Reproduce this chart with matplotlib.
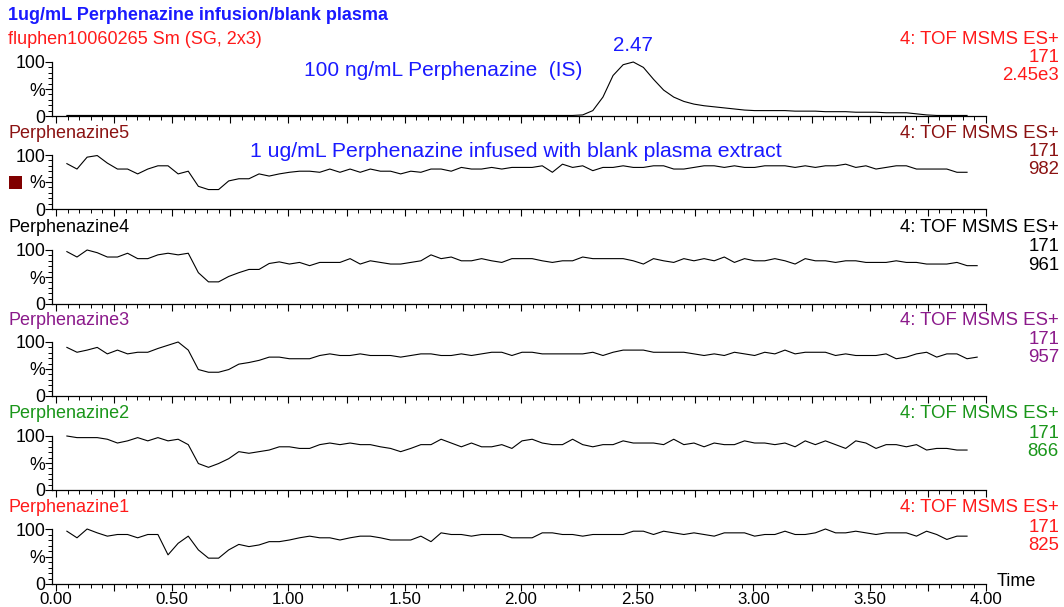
import numpy as np
import matplotlib
matplotlib.use("Agg")
from matplotlib import pyplot as plt
from matplotlib.patches import Rectangle
from matplotlib.ticker import MultipleLocator, FuncFormatter

plt.rcParams['font.family'] = ['Liberation Sans', 'DejaVu Sans']

# scan timing (min)
t_start = 0.047
t_step = 0.0435

# relative intensity (%) per scan
is_trace = [1, 1, 1, 1, 1, 1, 1, 1, 1, 1, 1, 1, 1, 1, 1, 1, 1, 1, 1, 1,
            1, 1, 1, 1, 1, 1, 1, 1, 1, 1, 1, 1, 1, 1, 1, 1, 1, 1, 1, 1,
            1, 1, 1, 1, 1, 1, 1, 1, 1, 1, 1, 2, 10, 35, 75, 95, 100, 90, 68, 48,
            35, 27, 22, 19, 17, 15, 13, 11, 10, 10, 10, 10, 9, 9, 9, 8, 8, 8, 7, 7,
            7, 6, 6, 6, 4, 2, 1, 1, 1, 1]

perph5 = [84, 74, 96, 99, 85, 74, 74, 65, 74, 80, 80, 65, 70, 42, 36, 36, 52, 56, 56, 65,
          61, 65, 68, 70, 70, 68, 74, 68, 74, 68, 74, 70, 70, 65, 70, 68, 74, 74, 70, 77,
          74, 74, 77, 74, 77, 77,
          77, 80, 68, 83, 77, 80, 71, 77, 77, 80, 77, 77, 80, 80, 74, 74, 77, 80, 80, 77,
          80, 77, 77, 80, 80, 80, 77, 80, 77, 80, 80, 83, 77, 80, 74, 77, 80, 80, 74, 74,
          74, 74, 68, 68]

perph4 = [97, 87, 100, 95, 87, 87, 94, 84, 84, 91, 94, 91, 94, 58, 41, 41, 51, 58, 64, 64,
          75, 78, 74, 77, 71, 77, 77, 77, 84, 74, 80, 77, 74, 74, 77, 80, 91, 84, 87, 80,
          80, 84, 80, 77, 84, 84,
          84, 80, 77, 80, 80, 87, 84, 84, 84, 84, 80, 74, 84, 80, 77, 84, 80, 84, 80, 87,
          77, 84, 80, 80, 84, 80, 74, 84, 80, 80, 77, 80, 80, 77, 77, 77, 80, 77, 77, 74,
          74, 74, 77, 71, 71]

perph3 = [90, 81, 85, 90, 78, 85, 78, 81, 81, 88, 94, 100, 85, 49, 44, 44, 49, 59, 62, 66,
          72, 72, 69, 69, 69, 75, 78, 75, 75, 78, 75, 75, 75, 72, 75, 78, 78, 75, 75, 78,
          75, 78, 81, 81, 75, 81,
          81, 78, 78, 78, 78, 78, 81, 75, 81, 85, 85, 85, 81, 81, 81, 81, 78, 75, 78, 75,
          81, 78, 75, 81, 78, 85, 78, 81, 81, 81, 75, 78, 75, 75, 75, 78, 69, 72, 78, 81,
          72, 78, 78, 69, 72]

perph2 = [100, 97, 97, 97, 94, 87, 91, 97, 91, 97, 91, 94, 84, 49, 42, 49, 58, 71, 68, 71,
          74, 80, 80, 77, 77, 84, 87, 84, 87, 84, 84, 80, 77, 71, 77, 84, 84, 94, 87, 80,
          87, 80, 80, 84, 77, 91,
          94, 87, 84, 84, 94, 84, 80, 84, 84, 91, 87, 87, 87, 84, 94, 84, 87, 80, 87, 84,
          84, 91, 87, 87, 84, 87, 80, 91, 84, 91, 84, 77, 91, 87, 77, 84, 84, 80, 84, 74,
          77, 77, 74, 74]

perph1 = [96, 84, 100, 93, 87, 90, 90, 84, 90, 90, 53, 74, 87, 62, 47, 47, 62, 72, 68, 71,
          77, 77, 80, 84, 87, 84, 84, 80, 84, 87, 87, 84, 80, 80, 80, 87, 77, 93, 90, 90,
          87, 90, 90, 90, 84, 84,
          84, 93, 93, 90, 90, 87, 90, 90, 90, 90, 96, 96, 90, 96, 93, 90, 93, 90, 87, 93,
          93, 93, 87, 90, 90, 96, 90, 90, 93, 100, 93, 93, 96, 93, 90, 93, 93, 93, 87, 96,
          90, 81, 87, 87]

traces = [is_trace, perph5, perph4, perph3, perph2, perph1]
names = ["fluphen10060265 Sm (SG, 2x3)", "Perphenazine5", "Perphenazine4",
         "Perphenazine3", "Perphenazine2", "Perphenazine1"]
colors = ["#ff1a1a", "#8b1212", "#000000", "#8b1a8b", "#1a961a", "#ff1a1a"]
mass = "171"
max_int = ["2.45e3", "982", "961", "957", "866", "825"]
scan_fn = "4: TOF MSMS ES+"

W, H = 1064, 607
fig = plt.figure(figsize=(W / 100, H / 100), dpi=100)

# panel pixel rows (top, bottom) and label rows
panel_px = [(62, 116), (155, 209), (250, 304), (342, 396), (436, 490), (529, 584)]
label_y = [39, 133, 228, 321, 414, 508]
ax_left, ax_right = 52, 986


def fx(px):
    return px / W


def fy(py):
    return 1 - py / H


axes = []
for i, (top, bot) in enumerate(panel_px):
    ax = fig.add_axes([fx(ax_left), fy(bot), fx(ax_right - ax_left), (bot - top) / H])
    y = np.array(traces[i])
    t = t_start + t_step * np.arange(len(y))
    ax.plot(t, y, color="black", lw=0.8, clip_on=False)
    ax.set_xlim(-0.017, 4.0)
    ax.set_ylim(0, 100)
    ax.spines['top'].set_visible(False)
    ax.spines['right'].set_visible(False)
    for s in ['left', 'bottom']:
        ax.spines[s].set_linewidth(0.9)
    ax.set_yticks([0, 50, 100])
    ax.set_yticklabels(["0", "%", "100"])
    ax.yaxis.set_minor_locator(MultipleLocator(10))
    ax.xaxis.set_major_locator(MultipleLocator(0.25))
    ax.xaxis.set_minor_locator(MultipleLocator(0.05))
    ax.xaxis.set_major_formatter(FuncFormatter(
        lambda v, p: f"{v:.2f}" if abs(v / 0.5 - round(v / 0.5)) < 1e-6 else ""))
    ax.tick_params(axis='both', which='major', length=5, width=0.8, pad=1)
    ax.tick_params(axis='x', which='major', labelsize=12.2)
    ax.tick_params(axis='y', which='major', labelsize=12.8, pad=0)
    ax.tick_params(axis='both', which='minor', length=3, width=0.7)
    if i < len(panel_px) - 1:
        ax.tick_params(axis='x', labelbottom=False)
    ax.set_facecolor("none")
    axes.append(ax)

    # header text for each panel
    fig.text(fx(8), fy(label_y[i]), names[i], color=colors[i], fontsize=13,
             ha='left', va='center')
    fig.text(fx(1059), fy(label_y[i]), scan_fn, color=colors[i], fontsize=13.4,
             ha='right', va='center')
    fig.text(fx(1059), fy(label_y[i] + 19), mass, color=colors[i], fontsize=13.4,
             ha='right', va='center')
    fig.text(fx(1059), fy(label_y[i] + 37), max_int[i], color=colors[i], fontsize=13.4,
             ha='right', va='center')

fig.text(fx(8), fy(16), "1ug/mL Perphenazine infusion/blank plasma", color="#1a1aff",
         fontsize=13, fontweight='bold', ha='left', va='center')

# annotations
axes[0].annotate("2.47", xy=(2.48, 100), xytext=(0, 5), textcoords='offset points',
                 ha='center', va='bottom', color="#1a1aff", fontsize=14.8)
fig.text(fx(304), fy(70), "100 ng/mL Perphenazine  (IS)", color="#1a1aff", fontsize=15,
         ha='left', va='center')
fig.text(fx(250), fy(152), "1 ug/mL Perphenazine infused with blank plasma extract",
         color="#1a1aff", fontsize=15.3, ha='left', va='center')

fig.text(fx(997), fy(581), "Time", color="black", fontsize=13, ha='left', va='center')

# small legend square next to panel 2
fig.patches.append(Rectangle((fx(9), fy(189)), fx(13), 13 / H, transform=fig.transFigure,
                             facecolor="#800000", edgecolor="none"))

fig.savefig("out.png", dpi=100)
